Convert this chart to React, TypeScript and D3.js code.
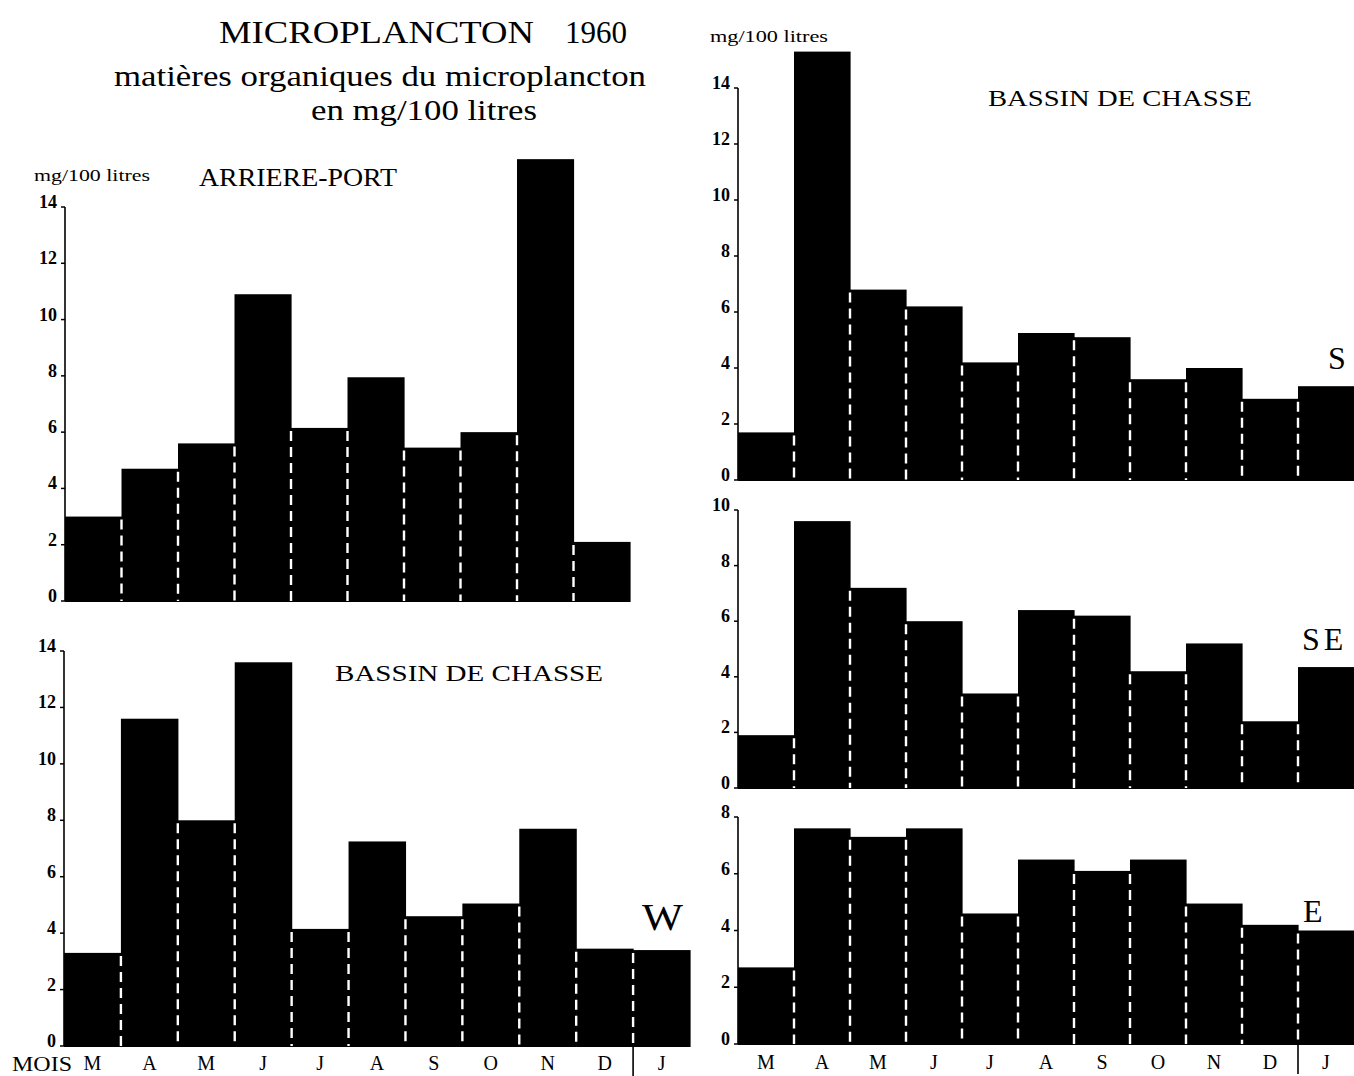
import React from "react";
import * as d3 from "d3";

const monthsYear = ["M", "A", "M", "J", "J", "A", "S", "O", "N", "D"];
const monthsWithJan = ["M", "A", "M", "J", "J", "A", "S", "O", "N", "D", "J"];

const arrierePort = [3.0, 4.7, 5.6, 10.9, 6.15, 7.95, 5.45, 6.0, 15.7, 2.1];
const bassinW = [3.3, 11.6, 8.0, 13.6, 4.15, 7.25, 4.6, 5.05, 7.7, 3.45, 3.4];
const bassinS = [1.7, 15.3, 6.8, 6.2, 4.2, 5.25, 5.1, 3.6, 4.0, 2.9, 3.35];
const bassinSE = [1.9, 9.6, 7.2, 6.0, 3.4, 6.4, 6.2, 4.2, 5.2, 2.4, 4.35];
const bassinE = [2.7, 7.6, 7.3, 7.6, 4.6, 6.5, 6.1, 6.5, 4.95, 4.2, 4.0];

const ticks14 = [0, 2, 4, 6, 8, 10, 12, 14];
const ticks10 = [0, 2, 4, 6, 8, 10];
const ticks8 = [0, 2, 4, 6, 8];

const FONT = "'Liberation Serif', 'Times New Roman', serif";

type PanelProps = {
  values: number[];
  labels: string[];
  x0: number;
  x1: number;
  yBase: number;
  yTop: number;
  yMax: number;
  ticks: number[];
  showMonths?: boolean;
  monthY?: number;
  sepIndex?: number;
};

function Panel({ values, labels, x0, x1, yBase, yTop, yMax, ticks, showMonths, monthY, sepIndex }: PanelProps) {
  const idx = values.map((_, i) => String(i));
  const x = d3.scaleBand<string>().domain(idx).range([x0, x1]).paddingInner(0).paddingOuter(0);
  const y = d3.scaleLinear().domain([0, yMax]).range([yBase, yTop]);
  const bw = x.bandwidth();
  return (
    <g>
      <line x1={x0} x2={x0} y1={y(yMax)} y2={y(0)} stroke="#000" strokeWidth={1.6} />
      {ticks.map((t) => (
        <g key={t}>
          <line x1={x0 - 4} x2={x0} y1={y(t)} y2={y(t)} stroke="#000" strokeWidth={1.5} />
          <text x={x0 - 8} y={y(t) + 1} textAnchor="end" fontFamily={FONT} fontSize={18} fontWeight={600}>
            {t}
          </text>
        </g>
      ))}
      {values.map((v, i) => (
        <rect key={i} x={x(String(i))!} y={y(v)} width={bw + 0.6} height={y(0) - y(v) + 1} fill="#000" />
      ))}
      {values.slice(1).map((v, i) => {
        const m = Math.min(v, values[i]);
        const xx = x(String(i + 1))!;
        return (
          <line
            key={"d" + i}
            x1={xx}
            x2={xx}
            y1={y(m) + 3}
            y2={y(0)}
            stroke="#fff"
            strokeWidth={2.4}
            strokeDasharray="10 6"
          />
        );
      })}
      {showMonths &&
        labels.map((l, i) => (
          <text
            key={"m" + i}
            x={x(String(i))! + bw / 2}
            y={monthY}
            textAnchor="middle"
            fontFamily={FONT}
            fontSize={20}
          >
            {l}
          </text>
        ))}
      {sepIndex !== undefined && (
        <line
          x1={x(String(sepIndex))!}
          x2={x(String(sepIndex))!}
          y1={y(0)}
          y2={y(0) + 30}
          stroke="#000"
          strokeWidth={1.6}
        />
      )}
    </g>
  );
}

export default function App() {
  return (
    <svg
      width={1354}
      height={1076}
      style={{ position: "absolute", left: 0, top: 0, background: "#fff" }}
    >
      <rect x={0} y={0} width={1354} height={1076} fill="#fff" />
      <text x={219} y={43} fontFamily={FONT} fontSize={32} textLength={315} lengthAdjust="spacingAndGlyphs">
        MICROPLANCTON
      </text>
      <text x={565} y={43} fontFamily={FONT} fontSize={32} textLength={62} lengthAdjust="spacingAndGlyphs">
        1960
      </text>
      <text x={114} y={86} fontFamily={FONT} fontSize={29} textLength={532} lengthAdjust="spacingAndGlyphs">
        matières organiques du microplancton
      </text>
      <text x={311} y={120} fontFamily={FONT} fontSize={29} textLength={226} lengthAdjust="spacingAndGlyphs">
        en mg/100 litres
      </text>

      <text x={34} y={181} fontFamily={FONT} fontSize={17} textLength={116} lengthAdjust="spacingAndGlyphs">
        mg/100 litres
      </text>
      <text x={199} y={186} fontFamily={FONT} fontSize={25} textLength={198} lengthAdjust="spacingAndGlyphs">
        ARRIERE-PORT
      </text>
      <Panel values={arrierePort} labels={monthsYear} x0={65} x1={630} yBase={601} yTop={207} yMax={14} ticks={ticks14} />

      <text x={335} y={681} fontFamily={FONT} fontSize={24} textLength={268} lengthAdjust="spacingAndGlyphs">
        BASSIN DE CHASSE
      </text>
      <text x={642} y={930} fontFamily={FONT} fontSize={38} textLength={41} lengthAdjust="spacingAndGlyphs">
        W
      </text>
      <Panel
        values={bassinW}
        labels={monthsWithJan}
        x0={64}
        x1={690}
        yBase={1046}
        yTop={651}
        yMax={14}
        ticks={ticks14}
        showMonths
        monthY={1070}
        sepIndex={10}
      />
      <text x={12} y={1071} fontFamily={FONT} fontSize={20} textLength={60} lengthAdjust="spacingAndGlyphs">
        MOIS
      </text>

      <text x={710} y={42} fontFamily={FONT} fontSize={17} textLength={118} lengthAdjust="spacingAndGlyphs">
        mg/100 litres
      </text>
      <text x={988} y={106} fontFamily={FONT} fontSize={24} textLength={264} lengthAdjust="spacingAndGlyphs">
        BASSIN DE CHASSE
      </text>
      <Panel values={bassinS} labels={monthsWithJan} x0={738} x1={1354} yBase={480} yTop={88} yMax={14} ticks={ticks14} />
      <text x={1328} y={369} fontFamily={FONT} fontSize={32}>
        S
      </text>

      <Panel values={bassinSE} labels={monthsWithJan} x0={738} x1={1354} yBase={788} yTop={510} yMax={10} ticks={ticks10} />
      <text x={1302} y={650} fontFamily={FONT} fontSize={32} letterSpacing={4}>
        SE
      </text>

      <Panel
        values={bassinE}
        labels={monthsWithJan}
        x0={738}
        x1={1354}
        yBase={1044}
        yTop={817}
        yMax={8}
        ticks={ticks8}
        showMonths
        monthY={1069}
        sepIndex={10}
      />
      <text x={1303} y={922} fontFamily={FONT} fontSize={32}>
        E
      </text>
    </svg>
  );
}
